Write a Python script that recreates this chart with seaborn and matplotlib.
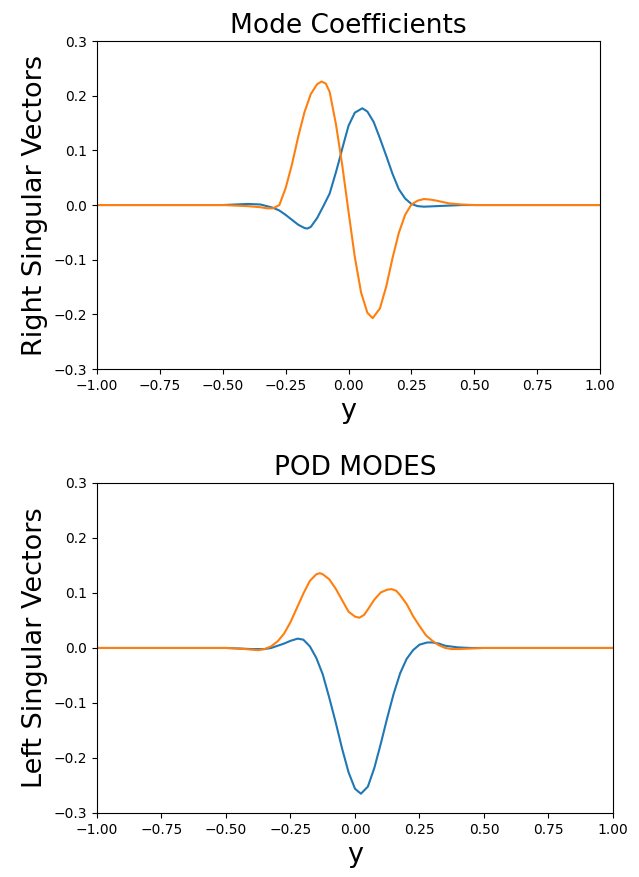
import matplotlib.pyplot as plt
import seaborn as sns
import numpy as np
import pandas as pd

# Top panel: right singular vectors (mode coefficients)
rsv1_x = [-1.0, -0.5, -0.45, -0.4, -0.35, -0.3, -0.275, -0.25, -0.225, -0.2, -0.175, -0.164,
          -0.15, -0.125, -0.1, -0.075, -0.05, -0.034, -0.025, 0.0, 0.025, 0.055, 0.075, 0.1, 0.125,
          0.139, 0.15, 0.175, 0.2, 0.225, 0.25, 0.275, 0.3, 0.35, 0.4, 0.45, 1.0]
rsv1_y = [0, 0, 0.001, 0.002, 0.001, -0.005, -0.010, -0.018, -0.027, -0.036, -0.042, -0.043,
          -0.040, -0.024, -0.002, 0.021, 0.060, 0.087, 0.103, 0.145, 0.169, 0.177, 0.171, 0.152, 0.122,
          0.104, 0.090, 0.057, 0.029, 0.012, 0.002, -0.002, -0.003, -0.002, -0.001, 0, 0]

rsv2_x = [-1.0, -0.5, -0.45, -0.4, -0.35, -0.325, -0.3, -0.275, -0.25, -0.225, -0.2, -0.175,
          -0.15, -0.125, -0.107, -0.09, -0.075, -0.05, -0.025, 0.0, 0.025, 0.05, 0.075, 0.096,
          0.125, 0.15, 0.175, 0.2, 0.225, 0.25, 0.275, 0.3, 0.325, 0.35, 0.4, 0.45, 0.5, 1.0]
rsv2_y = [0, 0, -0.001, -0.002, -0.004, -0.006, -0.006, 0.0, 0.031, 0.074, 0.125, 0.170,
          0.203, 0.221, 0.226, 0.222, 0.207, 0.148, 0.073, -0.012, -0.095, -0.160, -0.197, -0.207,
          -0.189, -0.149, -0.097, -0.051, -0.018, 0.001, 0.008, 0.011, 0.010, 0.008, 0.003, 0.001, 0, 0]

# Bottom panel: left singular vectors (POD modes)
lsv1_x = [-1.0, -0.5, -0.45, -0.4, -0.35, -0.325, -0.3, -0.275, -0.25, -0.222, -0.2, -0.175,
          -0.15, -0.125, -0.1, -0.075, -0.05, -0.025, 0.0, 0.023, 0.05, 0.075, 0.1, 0.125,
          0.15, 0.175, 0.2, 0.225, 0.25, 0.28, 0.3, 0.325, 0.35, 0.4, 0.45, 1.0]
lsv1_y = [0, 0, -0.001, -0.002, -0.002, 0.0, 0.004, 0.008, 0.013, 0.017, 0.015, 0.003,
          -0.018, -0.048, -0.090, -0.135, -0.183, -0.226, -0.256, -0.265, -0.252, -0.218, -0.174, -0.127,
          -0.083, -0.046, -0.020, -0.004, 0.006, 0.010, 0.010, 0.008, 0.004, 0.001, 0, 0]

lsv2_x = [-1.0, -0.5, -0.45, -0.4, -0.375, -0.35, -0.325, -0.3, -0.275, -0.25, -0.225, -0.2,
          -0.175, -0.15, -0.136, -0.125, -0.1, -0.075, -0.05, -0.025, 0.0, 0.017, 0.035, 0.05,
          0.075, 0.1, 0.125, 0.142, 0.16, 0.175, 0.2, 0.225, 0.25, 0.275, 0.3, 0.325, 0.35,
          0.375, 0.4, 0.45, 0.5, 1.0]
lsv2_y = [0, 0, -0.001, -0.003, -0.004, -0.002, 0.003, 0.012, 0.026, 0.047, 0.073, 0.099,
          0.122, 0.134, 0.136, 0.134, 0.125, 0.108, 0.087, 0.066, 0.057, 0.055, 0.060, 0.070,
          0.088, 0.101, 0.106, 0.107, 0.104, 0.096, 0.080, 0.058, 0.040, 0.023, 0.013, 0.005, 0.000,
          -0.002, -0.002, -0.001, 0, 0]

fig = plt.figure(figsize=(6.39, 8.77), dpi=100)
ax1 = fig.add_axes([0.1518, 0.5792, 0.7872, 0.3740])
ax2 = fig.add_axes([0.1518, 0.0730, 0.8075, 0.3763])

sns.lineplot(x=rsv1_x, y=rsv1_y, ax=ax1, color="tab:blue")
sns.lineplot(x=rsv2_x, y=rsv2_y, ax=ax1, color="tab:orange")
sns.lineplot(x=lsv1_x, y=lsv1_y, ax=ax2, color="tab:blue")
sns.lineplot(x=lsv2_x, y=lsv2_y, ax=ax2, color="tab:orange")

for ax, title, ylab in [(ax1, "Mode Coefficients", "Right Singular Vectors"),
                        (ax2, "POD MODES", "Left Singular Vectors")]:
    ax.set_xlim(-1, 1)
    ax.set_ylim(-0.3, 0.3)
    ax.set_xticks(np.arange(-1, 1.01, 0.25))
    ax.set_title(title, fontsize=19)
    ax.set_xlabel("y", fontsize=19.5)
    ax.set_ylabel(ylab, fontsize=19.5)

fig.savefig("out.png", dpi=100)
